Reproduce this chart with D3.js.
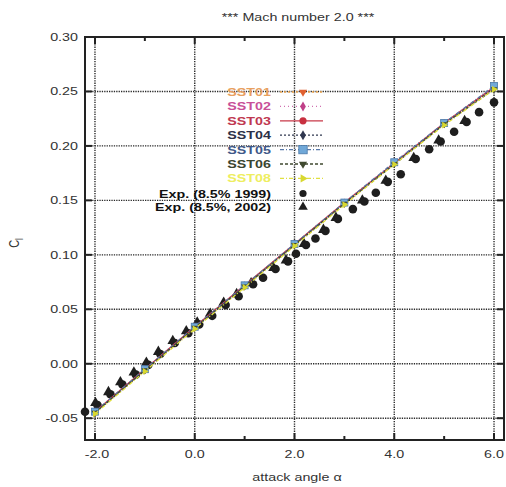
<!DOCTYPE html>
<html><head><meta charset="utf-8">
<script src="https://cdn.jsdelivr.net/npm/d3@7"></script>
<style>body{margin:0;background:#fff}svg{display:block}text{font-family:"Liberation Sans",Arial,sans-serif}</style>
</head><body><svg id="c" width="506" height="487"></svg>
<script>
const xTicks=[-2,0,2,4,6];
const xMinor=[-1,1,3,5];
const yTicks=[-0.05,0,0.05,0.10,0.15,0.20,0.25,0.30];
const xTickLabels=["-2.0","0.0","2.0","4.0","6.0"];
const yTickLabels=["-0.05","0.00","0.05","0.10","0.15","0.20","0.25","0.30"];

const alphaCFD=[-2,-1,0,1,2,3,4,5,6];
const sst01=[-0.045,-0.006,0.033,0.071,0.109,0.147,0.184,0.220,0.253];
const sst02=[-0.044,-0.005,0.034,0.072,0.110,0.148,0.185,0.221,0.254];
const sst03=[-0.044,-0.005,0.034,0.072,0.110,0.148,0.184,0.221,0.254];
const sst04=[-0.045,-0.006,0.033,0.071,0.109,0.147,0.184,0.220,0.253];
const sst05=[-0.044,-0.005,0.034,0.072,0.110,0.148,0.185,0.221,0.255];
const sst06=[-0.045,-0.006,0.033,0.071,0.109,0.147,0.183,0.220,0.252];
const sst08=[-0.046,-0.007,0.032,0.070,0.108,0.146,0.183,0.219,0.252];

const exp1999Alpha=[-2.2,-1.95,-1.69,-1.45,-1.18,-0.93,-0.69,-0.4,-0.13,0.09,0.35,0.62,0.88,1.17,1.37,1.62,1.87,2.03,2.23,2.42,2.62,2.87,3.17,3.4,3.63,3.87,4.13,4.43,4.7,4.93,5.2,5.45,5.7,6.0];
const exp1999Cl=[-0.044,-0.038,-0.028,-0.019,-0.010,-0.001,0.009,0.019,0.028,0.036,0.044,0.054,0.062,0.073,0.079,0.087,0.094,0.101,0.109,0.115,0.122,0.133,0.142,0.149,0.157,0.167,0.174,0.188,0.197,0.204,0.213,0.222,0.231,0.240];
const exp2002Alpha=[-1.99,-1.73,-1.49,-1.22,-0.97,-0.73,-0.44,-0.17,0.05,0.31,0.58,0.84,1.13,1.58,1.83,2.19,2.58,2.83,3.36,3.83,4.39,4.89,5.41];
const exp2002Cl=[-0.036,-0.026,-0.017,-0.008,0.001,0.011,0.021,0.030,0.038,0.046,0.056,0.064,0.074,0.088,0.095,0.110,0.123,0.134,0.150,0.168,0.189,0.205,0.223];

const SX=1.3;
const svg=d3.select("#c");
const L=85,R=504,T=37,B=440;
const x=d3.scaleLinear().domain([-2.2,6.2]).range([L,R]);
const y=d3.scaleLinear().domain([-0.07,0.30]).range([B,T]);

function stext(px,py,str,anchor,size,weight,fill,rot){
  const g=svg.append("g").attr("transform",`translate(${px},${py})`+(rot?` rotate(${rot}) scale(1,${SX})`:` scale(${SX},1)`));
  return g.append("text").attr("text-anchor",anchor).attr("font-size",size).attr("font-weight",weight||"normal").attr("fill",fill||"#333").text(str);
}

// gridlines
const grid=svg.append("g").attr("stroke","#2a2a2a").attr("stroke-width",1.4).attr("stroke-dasharray","1.3,1.1");
grid.selectAll("line.v").data(xTicks).join("line").attr("class","v").attr("x1",d=>x(d)).attr("x2",d=>x(d)).attr("y1",T).attr("y2",B);
grid.selectAll("line.h").data(yTicks.filter(d=>d<0.3)).join("line").attr("class","h").attr("x1",L).attr("x2",R).attr("y1",d=>y(d)).attr("y2",d=>y(d));

// frame
svg.append("rect").attr("x",L).attr("y",T).attr("width",R-L).attr("height",B-T).attr("fill","none").attr("stroke","#222").attr("stroke-width",2);
const tk=svg.append("g").attr("stroke","#222").attr("stroke-width",2);
xTicks.forEach(d=>{tk.append("line").attr("x1",x(d)).attr("x2",x(d)).attr("y1",B).attr("y2",B-7);tk.append("line").attr("x1",x(d)).attr("x2",x(d)).attr("y1",T).attr("y2",T+7);});
xMinor.forEach(d=>{tk.append("line").attr("x1",x(d)).attr("x2",x(d)).attr("y1",B).attr("y2",B-4);tk.append("line").attr("x1",x(d)).attr("x2",x(d)).attr("y1",T).attr("y2",T+4);});
yTicks.forEach(d=>{tk.append("line").attr("y1",y(d)).attr("y2",y(d)).attr("x1",L).attr("x2",L+7);tk.append("line").attr("y1",y(d)).attr("y2",y(d)).attr("x1",R).attr("x2",R-7);});

xTicks.forEach((d,i)=>stext(x(d)+(d<0?2:0),458,xTickLabels[i],"middle",11));
yTicks.forEach((d,i)=>stext(78,y(d)+4,yTickLabels[i],"end",11));

stext(298,21,"*** Mach number 2.0 ***","middle",11);
stext(297,481,"attack angle α","middle",11);
const yl=stext(19,243,"C","middle",11,"normal","#333",-90);
yl.append("tspan").attr("font-size",8).attr("dy",3).text("l");

// experimental
const expG=svg.append("g").attr("fill","#1e1e1e");
expG.selectAll("circle").data(exp1999Alpha.map((a,i)=>[a,exp1999Cl[i]])).join("circle").attr("cx",d=>x(d[0])).attr("cy",d=>y(d[1])).attr("r",4.3);
const tri=d3.symbol().type(d3.symbolTriangle).size(50);
expG.selectAll("path").data(exp2002Alpha.map((a,i)=>[a,exp2002Cl[i]])).join("path").attr("d",tri).attr("transform",d=>`translate(${x(d[0])},${y(d[1])})`);

const cfd=[
 {name:"SST01",vals:sst01,color:"#f0a850",text:"#e8a060",dash:"2,2",mcol:"#e06030",sym:"tridown"},
 {name:"SST02",vals:sst02,color:"#d070b0",text:"#c85098",dash:"1,3",mcol:"#c04088",sym:"diamond"},
 {name:"SST03",vals:sst03,color:"#c83848",text:"#c03850",dash:null,mcol:"#c83040",sym:"circle"},
 {name:"SST04",vals:sst04,color:"#303850",text:"#2c3048",dash:"2,2",mcol:"#303850",sym:"diamond"},
 {name:"SST05",vals:sst05,color:"#5878a8",text:"#405888",dash:"4,2,1,2",mcol:"#70a8d8",sym:"square"},
 {name:"SST06",vals:sst06,color:"#404a30",text:"#3a4530",dash:"3,2",mcol:"#404a30",sym:"tridown"},
 {name:"SST08",vals:sst08,color:"#e0e040",text:"#eeee60",dash:"4,2,1,2",mcol:"#d8d830",sym:"triright"}
];
function marker(g,sym,cx,cy,col,s){
  s=s||1;
  if(sym==="circle") g.append("circle").attr("cx",cx).attr("cy",cy).attr("r",3*s).attr("fill",col);
  else if(sym==="square") g.append("rect").attr("x",cx-3.5*s).attr("y",cy-3.5*s).attr("width",7*s).attr("height",7*s).attr("fill",col).attr("stroke","#4a78a8").attr("stroke-width",0.8);
  else if(sym==="diamond") g.append("path").attr("d",d3.symbol().type(d3.symbolDiamond).size(20*s*s)()).attr("transform",`translate(${cx},${cy})`).attr("fill",col);
  else if(sym==="tridown") g.append("path").attr("d",d3.symbol().type(d3.symbolTriangle).size(20*s*s)()).attr("transform",`translate(${cx},${cy}) rotate(180)`).attr("fill",col);
  else g.append("path").attr("d",d3.symbol().type(d3.symbolTriangle).size(20*s*s)()).attr("transform",`translate(${cx},${cy}) rotate(90)`).attr("fill",col);
}
const line=d3.line().x(d=>x(d[0])).y(d=>y(d[1]));
cfd.forEach(s=>{
  const pts=alphaCFD.map((a,i)=>[a,s.vals[i]]);
  const g=svg.append("g");
  g.append("path").datum(pts).attr("d",line).attr("fill","none").attr("stroke",s.color).attr("stroke-width",1.3).attr("stroke-dasharray",s.dash);
  pts.forEach(p=>marker(g,s.sym,x(p[0]),y(p[1]),s.mcol));
});

const lg=svg.append("g");
cfd.forEach((s,i)=>{
  const yy=92+i*14.4;
  stext(271,yy+4,s.name,"end",11,"bold",s.text);
  lg.append("line").attr("x1",280).attr("x2",323).attr("y1",yy).attr("y2",yy).attr("stroke",s.color).attr("stroke-width",1.3).attr("stroke-dasharray",s.dash);
  marker(lg,s.sym,303,yy,s.mcol,1.2);
});
stext(271,193.5+4,"Exp. (8.5% 1999)","end",11,"bold","#111");
lg.append("circle").attr("cx",303).attr("cy",193.5).attr("r",3.6).attr("fill","#1e1e1e");
stext(271,207+4,"Exp. (8.5%, 2002)","end",11,"bold","#111");
lg.append("path").attr("d",d3.symbol().type(d3.symbolTriangle).size(40)()).attr("transform","translate(303,207)").attr("fill","#1e1e1e");
</script></body></html>
